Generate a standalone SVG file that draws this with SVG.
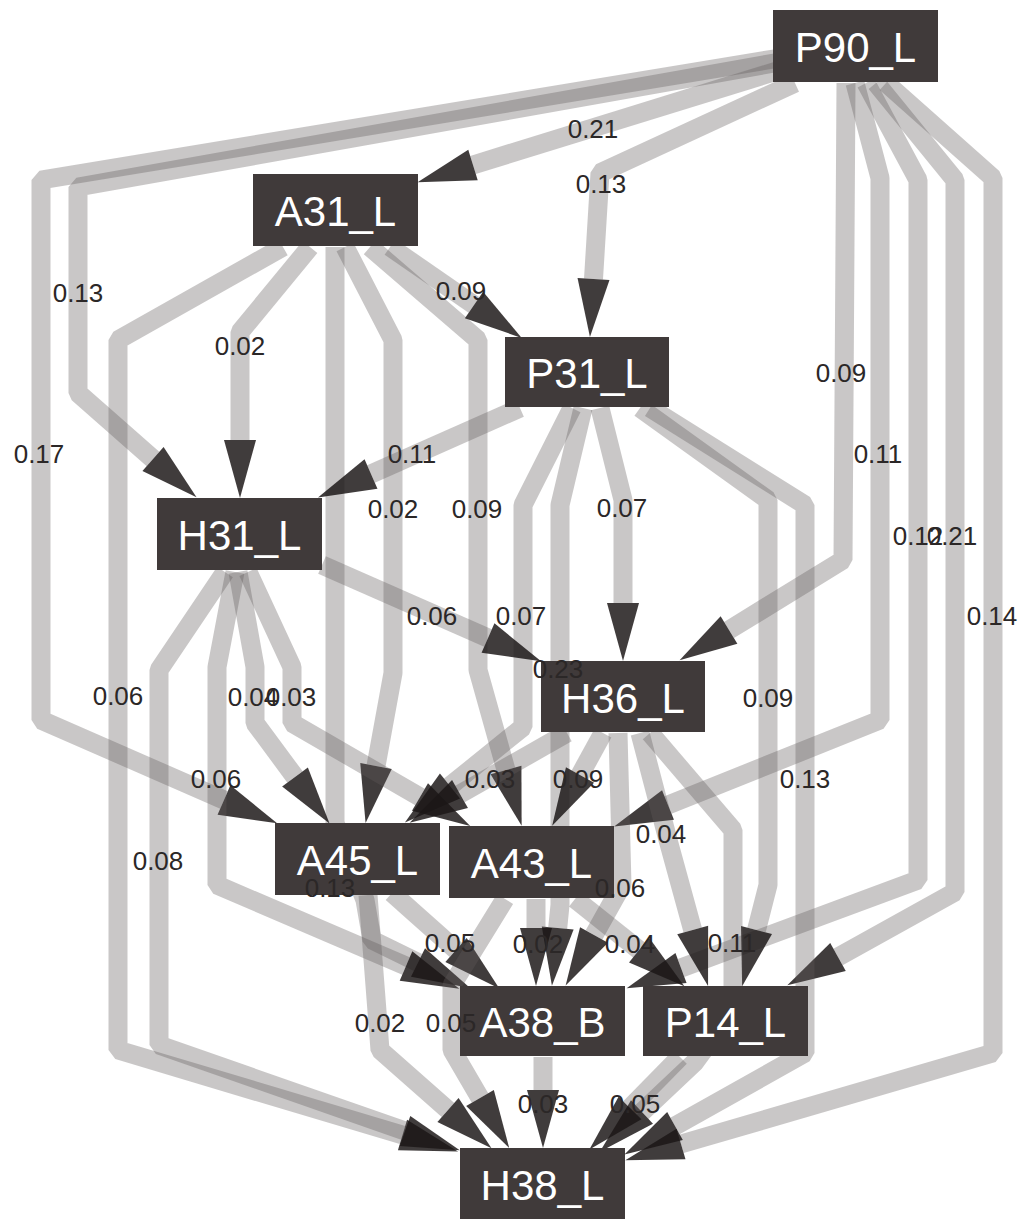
<svg xmlns="http://www.w3.org/2000/svg" width="1028" height="1225" viewBox="0 0 1028 1225">
<defs>
<marker id="arr" markerUnits="userSpaceOnUse" orient="auto" refX="0" refY="0" markerWidth="60" markerHeight="34" viewBox="0 -17 60 34" overflow="visible">
<path d="M0,-16 L58,0 L0,16 Z" fill="#1c1717" fill-opacity="0.84"/>
</marker>
<style>
.e{fill:none;stroke:#615b5b;stroke-opacity:0.34;stroke-width:19;stroke-linejoin:bevel;marker-end:url(#arr)}
.n rect{fill:#403a3a}
.n text{fill:#ffffff;font-family:"Liberation Sans",Arial,sans-serif;font-size:42px;text-anchor:middle}
.l{fill:#2b2727;font-family:"Liberation Sans",Arial,sans-serif;font-size:26px;text-anchor:middle}
</style>
</defs>
<rect width="1028" height="1225" fill="#ffffff"/>
<g id="edges">
<path class="e" d="M780,62 L78,187 L78,393 L153,459"/>
<path class="e" d="M780,58 L41,180 L41,720 L224,800"/>
<path class="e" d="M780,70 L473,165"/>
<path class="e" d="M795,83 L600,173 L593.5,279"/>
<path class="e" d="M846,83 L843,560 L729,630"/>
<path class="e" d="M855,83 L880,178 L880,720 L668,805"/>
<path class="e" d="M866,83 L918,180 L918,880 L681,968"/>
<path class="e" d="M876,83 L955,180 L955,892 L838,957"/>
<path class="e" d="M886,83 L993,178 L993,1053 L681,1144"/>
<path class="e" d="M283,247 L118,340 L118,1050 L402.5,1135"/>
<path class="e" d="M310,247 L240,332 L240,440"/>
<path class="e" d="M335,247 L335,823 L365,900 L372,940 L418,962.5"/>
<path class="e" d="M345,247 L393,340 L393,673 L376,766"/>
<path class="e" d="M370,247 L478,340 L478,670 L506,770"/>
<path class="e" d="M390,247 L474,305"/>
<path class="e" d="M520,408 L371,474"/>
<path class="e" d="M572,408 L523,505 L523,727 L450,786"/>
<path class="e" d="M583,408 L560,505 L560,905 L557.7,928"/>
<path class="e" d="M600,408 L623,500 L623,603"/>
<path class="e" d="M640,408 L768,500 L768,885 L756.5,930"/>
<path class="e" d="M650,408 L805,505 L805,1053 L675,1126"/>
<path class="e" d="M225,572 L159,670 L159,1045 L405,1131"/>
<path class="e" d="M235,572 L217,667 L217,885 L406,966"/>
<path class="e" d="M238,572 L255,667 L255,723 L295,777"/>
<path class="e" d="M248,572 L292,667 L292,723 L420,797"/>
<path class="e" d="M322,565 L488,638"/>
<path class="e" d="M567,733 L460,794"/>
<path class="e" d="M603,733 L580,775"/>
<path class="e" d="M618,733 L622,885 L594,935"/>
<path class="e" d="M640,733 L668,840 L692.7,930"/>
<path class="e" d="M650,733 L733,830 L733,1010 L695,1062 L642,1112"/>
<path class="e" d="M392,893 L456,950"/>
<path class="e" d="M368,895 L380,1050 L448,1110"/>
<path class="e" d="M536,899 L536,928"/>
<path class="e" d="M505,899 L452,985 L452,1050 L480,1098"/>
<path class="e" d="M575,899 L639,950"/>
<path class="e" d="M543,1057 L543,1090"/>
<path class="e" d="M680,1057 L630,1108"/>
</g>
<g id="P90_L" class="n"><rect x="773" y="10" width="165" height="72"/><text x="855.5" y="62">P90_L</text></g>
<g id="A31_L" class="n"><rect x="253" y="174" width="165" height="72"/><text x="335.5" y="226">A31_L</text></g>
<g id="P31_L" class="n"><rect x="505" y="337" width="164" height="70"/><text x="587" y="388">P31_L</text></g>
<g id="H31_L" class="n"><rect x="157" y="498" width="165" height="72"/><text x="239.5" y="550">H31_L</text></g>
<g id="H36_L" class="n"><rect x="541" y="661" width="164" height="71"/><text x="623" y="713">H36_L</text></g>
<g id="A45_L" class="n"><rect x="275" y="823" width="165" height="72"/><text x="357.5" y="875">A45_L</text></g>
<g id="A43_L" class="n"><rect x="449" y="826" width="165" height="72"/><text x="531.5" y="878">A43_L</text></g>
<g id="A38_B" class="n"><rect x="460" y="986" width="165" height="70"/><text x="542.5" y="1037">A38_B</text></g>
<g id="P14_L" class="n"><rect x="643" y="986" width="165" height="70"/><text x="725.5" y="1037">P14_L</text></g>
<g id="H38_L" class="n"><rect x="460" y="1148" width="165" height="71"/><text x="542.5" y="1200">H38_L</text></g>
<g id="labels">
<text class="l" x="593" y="138">0.21</text>
<text class="l" x="601" y="193">0.13</text>
<text class="l" x="78" y="302">0.13</text>
<text class="l" x="240" y="355">0.02</text>
<text class="l" x="461" y="300">0.09</text>
<text class="l" x="39" y="463">0.17</text>
<text class="l" x="412" y="463">0.11</text>
<text class="l" x="393" y="518">0.02</text>
<text class="l" x="477" y="518">0.09</text>
<text class="l" x="622" y="517">0.07</text>
<text class="l" x="841" y="382">0.09</text>
<text class="l" x="878" y="463">0.11</text>
<text class="l" x="918" y="545">0.12</text>
<text class="l" x="952" y="545">0.21</text>
<text class="l" x="992" y="625">0.14</text>
<text class="l" x="432" y="625">0.06</text>
<text class="l" x="521" y="625">0.07</text>
<text class="l" x="558" y="678">0.23</text>
<text class="l" x="118" y="705">0.06</text>
<text class="l" x="253" y="706">0.04</text>
<text class="l" x="291" y="706">0.03</text>
<text class="l" x="768" y="707">0.09</text>
<text class="l" x="216" y="788">0.06</text>
<text class="l" x="490" y="788">0.03</text>
<text class="l" x="578" y="788">0.09</text>
<text class="l" x="805" y="788">0.13</text>
<text class="l" x="661" y="843">0.04</text>
<text class="l" x="158" y="870">0.08</text>
<text class="l" x="330" y="897">0.13</text>
<text class="l" x="620" y="897">0.06</text>
<text class="l" x="450" y="952">0.05</text>
<text class="l" x="538" y="953">0.02</text>
<text class="l" x="630" y="953">0.04</text>
<text class="l" x="732" y="952">0.11</text>
<text class="l" x="380" y="1032">0.02</text>
<text class="l" x="451" y="1032">0.05</text>
<text class="l" x="543" y="1113">0.03</text>
<text class="l" x="635" y="1113">0.05</text>
</g>
</svg>
